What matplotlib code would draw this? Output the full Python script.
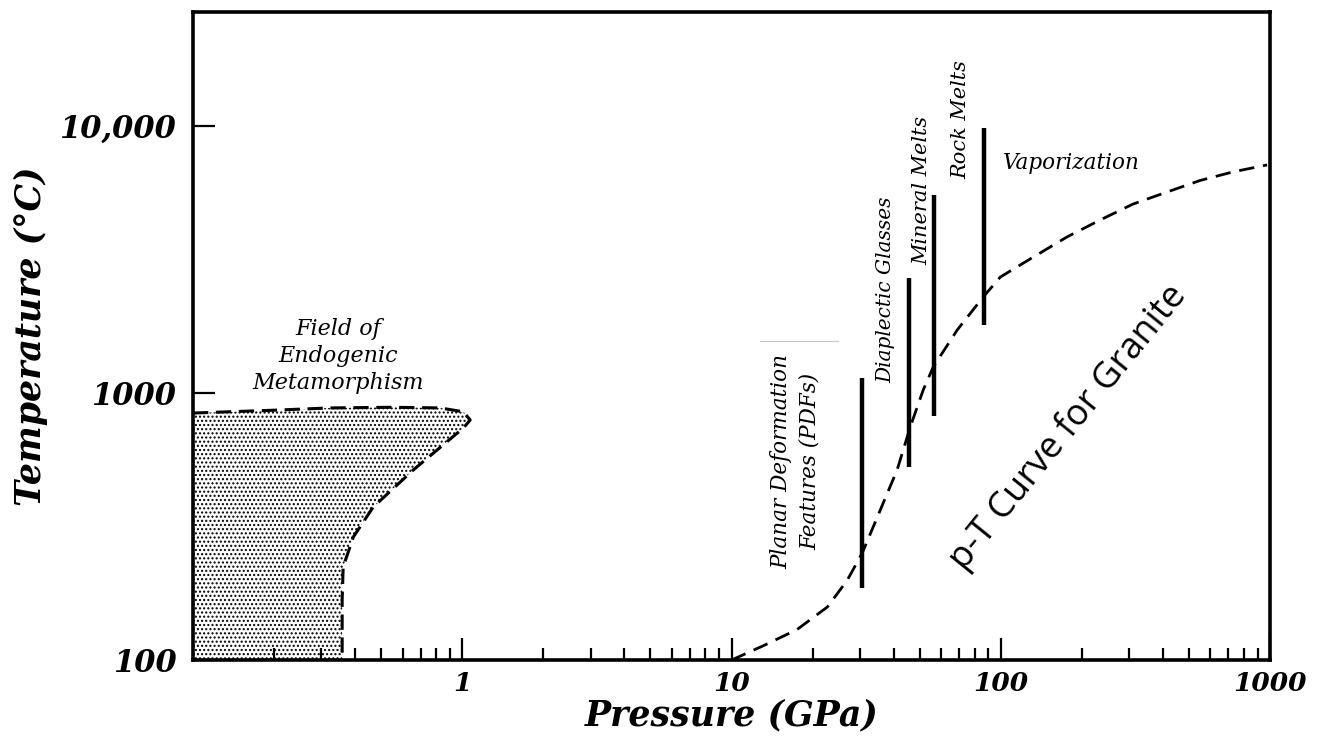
import matplotlib
matplotlib.use("Agg")
import matplotlib.pyplot as plt
from matplotlib.ticker import LogLocator, NullLocator, NullFormatter

# p-T curve for granite (GPa, deg C)
granite_p = [10, 13.1, 17.5, 22.7, 26.9, 30.6, 35.7, 41.2, 46.1, 51.5, 56.1, 68.9, 86.1,
             99.5, 132, 176, 234, 310, 415, 550, 729, 975]
granite_t = [100, 113, 130, 158, 199, 252, 365, 515, 746, 1026, 1251, 1722, 2291,
             2716, 3228, 3838, 4446, 5100, 5660, 6250, 6730, 7145]

# field of endogenic metamorphism, outline
field_p = [0.1, 0.2, 0.323, 0.55, 0.828, 1.01, 1.07, 1.01, 0.658, 0.467, 0.394, 0.361, 0.358, 0.358]
field_t = [841, 862, 879, 884, 879, 850, 792, 740, 515, 374, 289, 223, 168, 100]

# shock stage bars
bar_names = ["Planar Deformation\nFeatures (PDFs)", "Diaplectic Glasses", "Mineral Melts", "Rock Melts"]
bar_p = [30.6, 45.7, 56.5, 86.8]
bar_lo = [186, 528, 820, 1800]
bar_hi = [1138, 2700, 5520, 9840]

x_ticks = [1, 10, 100, 1000]
x_labels = ["1", "10", "100", "1000"]
y_ticks = [100, 1000, 10000]
y_labels = ["100", "1000", "10,000"]

plt.rcParams["hatch.color"] = "black"
plt.rcParams["hatch.linewidth"] = 1.0

fig = plt.figure(figsize=(13.23, 7.53), dpi=100)
ax = fig.add_axes([0.1459, 0.1235, 0.8141, 0.8605])
ax.set_xscale("log")
ax.set_yscale("log")
ax.set_xlim(0.1, 1000)
ax.set_ylim(100, 26700)

# stippled field
poly_p = field_p + [0.1]
poly_t = field_t + [100]
ax.fill(poly_p, poly_t, facecolor="white", edgecolor="black", hatch="....", linewidth=0, zorder=1)
ax.plot(field_p, field_t, color="black", lw=2.2, linestyle=(0, (5, 2.5)), zorder=2)

# granite curve
ax.plot(granite_p, granite_t, color="black", lw=2.0, linestyle=(0, (5.5, 3.2)), zorder=3)

# vertical bars
ax.vlines(bar_p, bar_lo, bar_hi, color="black", lw=3.2, zorder=4)

# faint scan line above the PDF label
ax.plot([12.8, 24.9], [1567, 1567], color="#c8c8c8", lw=0.8)

serif = "DejaVu Serif"
ax.text(0.347, 1377, "Field of\nEndogenic\nMetamorphism", ha="center", va="center",
        fontsize=16, style="italic", family=serif, linespacing=1.3)
ax.text(17.3, 556, bar_names[0], rotation=90, ha="center", va="center",
        fontsize=15.5, style="italic", family=serif, multialignment="center", linespacing=1.35)
ax.text(37.5, 2432, bar_names[1], rotation=90, ha="center", va="center",
        fontsize=14.5, style="italic", family=serif)
ax.text(51.1, 5754, bar_names[2], rotation=90, ha="center", va="center",
        fontsize=15, style="italic", family=serif)
ax.text(71.3, 10520, bar_names[3], rotation=90, ha="center", va="center",
        fontsize=15, style="italic", family=serif)
ax.text(182.5, 7260, "Vaporization", ha="center", va="center",
        fontsize=15.5, style="italic", family=serif)
ax.text(178, 740, "p-T Curve for Granite", rotation=51, rotation_mode="anchor",
        ha="center", va="center", fontsize=26, family="Open Sans")

# axes styling
for s in ax.spines.values():
    s.set_linewidth(2.6)

ax.set_xticks(x_ticks)
ax.set_xticklabels(x_labels)
ax.xaxis.set_minor_locator(LogLocator(base=10, subs=range(2, 10)))
ax.xaxis.set_minor_formatter(NullFormatter())
ax.set_yticks(y_ticks)
ax.set_yticklabels(y_labels)
ax.yaxis.set_minor_locator(NullLocator())

ax.tick_params(axis="x", which="major", direction="in", length=16, width=1.6, pad=8)
ax.tick_params(axis="x", which="minor", direction="in", length=8.5, width=1.6)
ax.tick_params(axis="y", which="major", direction="in", length=16, width=1.6, pad=12)

for lab in ax.get_xticklabels():
    lab.set_fontfamily(serif)
    lab.set_fontstyle("italic")
    lab.set_fontweight("bold")
    lab.set_fontsize(19)
for lab in ax.get_yticklabels():
    lab.set_fontfamily(serif)
    lab.set_fontstyle("italic")
    lab.set_fontweight("bold")
    lab.set_fontsize(22)

ax.set_xlabel("Pressure (GPa)", family=serif, style="italic", weight="bold", fontsize=25, labelpad=2)
ax.set_ylabel("Temperature (°C)", family=serif, style="italic", weight="bold", fontsize=25, labelpad=8)

fig.savefig("out.png", dpi=100)
